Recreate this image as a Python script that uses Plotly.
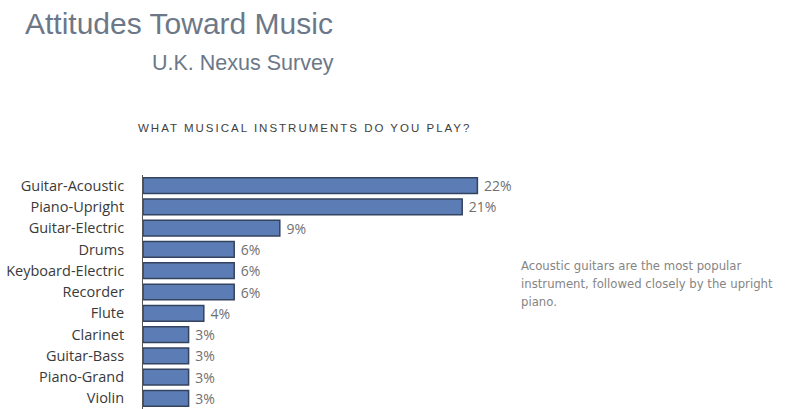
import plotly.graph_objects as go

# Survey results: share of respondents playing each instrument (%)
instruments = [
    "Guitar-Acoustic", "Piano-Upright", "Guitar-Electric", "Drums",
    "Keyboard-Electric", "Recorder", "Flute", "Clarinet",
    "Guitar-Bass", "Piano-Grand", "Violin",
]
share_pct = [22, 21, 9, 6, 6, 6, 4, 3, 3, 3, 3]

title_text = "Attitudes Toward Music"
subtitle_text = "U.K. Nexus Survey"
question_text = "WHAT MUSICAL INSTRUMENTS DO YOU PLAY?"
note_lines = [
    "Acoustic guitars are the most popular",
    "instrument, followed closely by the upright",
    "piano.",
]

W, H = 787, 409
PLOT_L, PLOT_R = 143, 599   # plot area in pixels
PLOT_T, PLOT_B = 175, 409

fig = go.Figure(
    go.Bar(
        x=share_pct,
        y=instruments,
        orientation="h",
        marker=dict(color="#5b7cb4", line=dict(color="#34435f", width=1.5)),
        # a leading no-break space keeps the value labels clear of the bar ends
        texttemplate="\u00a0%{x}%",
        textposition="outside",
        constraintext="none",
        textfont=dict(family="Open Sans, Arial, sans-serif", size=14, color="#707070"),
        cliponaxis=False,
        width=0.74,
        hoverinfo="skip",
    )
)

fig.update_layout(
    width=W,
    height=H,
    margin=dict(l=PLOT_L, r=W - PLOT_R, t=PLOT_T, b=H - PLOT_B, pad=0),
    paper_bgcolor="white",
    plot_bgcolor="white",
    showlegend=False,
    xaxis=dict(range=[0, 30], visible=False, fixedrange=True),
    yaxis=dict(
        autorange="reversed",
        showline=True,
        linecolor="#555",
        linewidth=1,
        ticks="",
        ticklabelstandoff=15,
        tickfont=dict(family="Open Sans, Arial, sans-serif", size=14.5, color="#3a3a3a"),
        showgrid=False,
        fixedrange=True,
    ),
    font=dict(family="Open Sans, Arial, sans-serif"),
)


def px_to_paper(xp, yp):
    """Convert page pixel coordinates to paper coordinates."""
    return ((xp - PLOT_L) / (PLOT_R - PLOT_L), (PLOT_B - yp) / (PLOT_B - PLOT_T))


def add_text(text, xp, yp, family, size, color):
    x, y = px_to_paper(xp, yp)
    fig.add_annotation(
        text=text, xref="paper", yref="paper", x=x, y=y,
        xanchor="left", yanchor="middle", align="left", showarrow=False,
        font=dict(family=family, size=size, color=color),
    )


add_text(title_text, 23, 23, "Liberation Sans, Arial, sans-serif", 30, "#6c7888")
add_text(subtitle_text, 150, 63, "Liberation Sans, Arial, sans-serif", 21.5, "#6c7888")
add_text(f'<span style="letter-spacing:2px">{question_text}</span>',
         136, 128, "Liberation Sans, Arial, sans-serif", 11.5, "#3e3e3e")

for i, line in enumerate(note_lines):
    add_text(line, 519, 266 + 18 * i, "DejaVu Sans, sans-serif", 11.7, "#858585")

fig.write_html("out.html")
